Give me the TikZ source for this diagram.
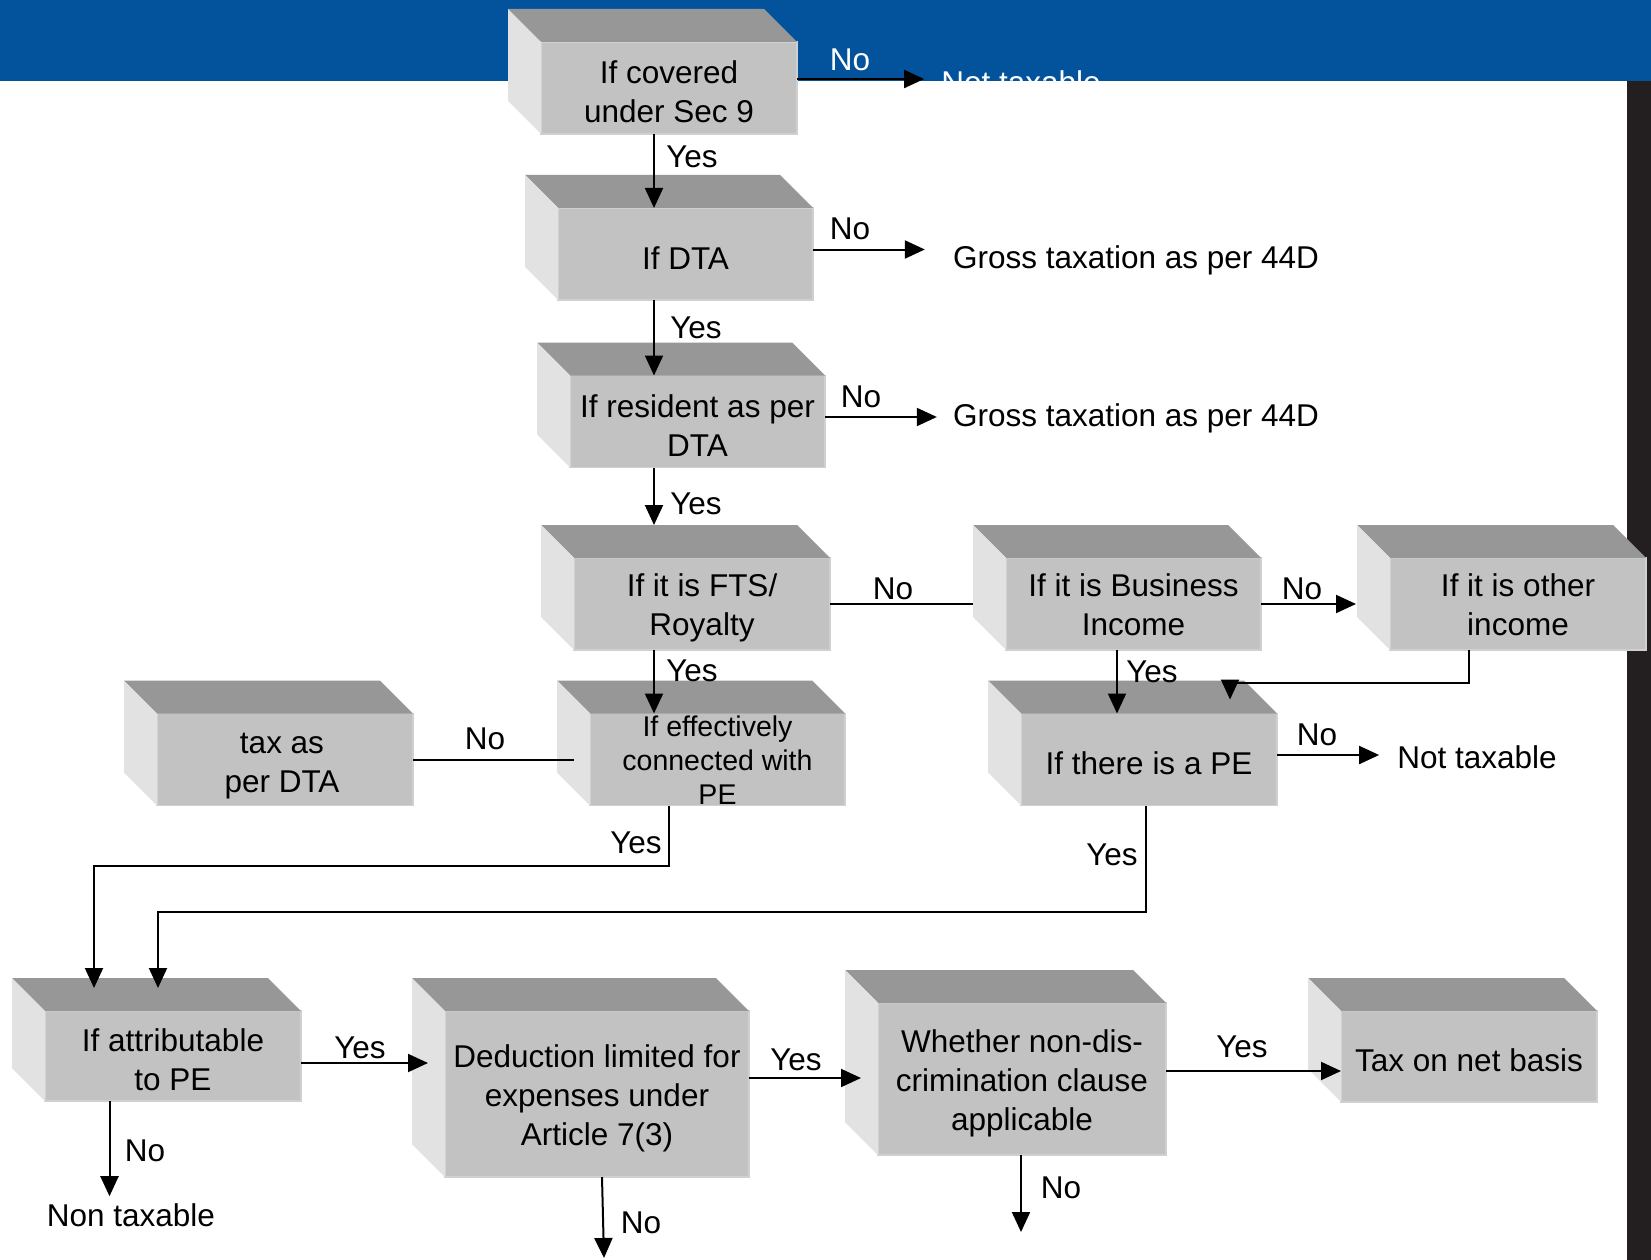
\documentclass[tikz,border=0pt]{standalone}
\usepackage{fontspec}
\setmainfont{Liberation Sans}
\usetikzlibrary{arrows.meta}
\definecolor{frontgray}{HTML}{C2C2C2}
\definecolor{topgray}{HTML}{979797}
\definecolor{leftgray}{HTML}{E2E2E2}
\definecolor{edgegray}{HTML}{D0D0D0}
\definecolor{bluebar}{HTML}{02529C}
\definecolor{darkbar}{HTML}{231F20}
\tikzset{
  front/.style={fill=frontgray, draw=edgegray, line width=1.5pt, inner sep=0pt, outer sep=0pt},
  topf/.style={fill=topgray},
  leftf/.style={fill=leftgray},
  btxt/.style={align=center, font=\fontsize{31.5}{39}\selectfont, inner sep=0pt, yshift=-4pt},
  smalltxt/.style={font=\fontsize{28.5}{34}\selectfont, yshift=3pt},
  lowtxt/.style={yshift=-3pt},
  lbl/.style={font=\fontsize{31.5}{39}\selectfont, inner sep=0pt},
  conn/.style={line width=2pt},
  arr/.style={conn, -{Triangle[length=20pt,width=18pt]}},
}
\newcommand\cubebox[7]{%
  \node[front, minimum width=#4pt, minimum height=#5pt] (#1) at (#2,#3) {};
  \fill[topf] (#1.north west) -- ++(-33,-33) -- ([xshift=-33pt,yshift=33pt]#1.north east) -- (#1.north east) -- cycle;
  \fill[leftf] (#1.north west) -- ++(-33,-33) -- ([xshift=-33pt,yshift=33pt]#1.south west) -- (#1.south west) -- cycle;
  \coordinate (#1top) at ([yshift=33pt]#1.north);
  \node[btxt,#6] (#1t) at (#1.center) {#7};
}
\begin{document}
\begin{tikzpicture}[x=1pt,y=-1pt]
\useasboundingbox (0,0) rectangle (1651,1260);
\fill[white] (0,0) rectangle (1651,1260);
\fill[bluebar] (0,0) rectangle (1651,81);
\fill[darkbar] (1627,81) rectangle (1651,1260);

% boxes
\cubebox{b1}{669}{88}{256}{92}{}{If covered\\under Sec 9}
\cubebox{b2}{685.5}{254}{255}{92}{}{If DTA}
\cubebox{b3}{697.5}{421.5}{255}{92}{}{If resident as per\\DTA}
\cubebox{b4}{702}{604}{256}{92}{}{If it is FTS/\\Royalty}
\cubebox{b5}{1133.5}{604}{255}{92}{yshift=3pt}{If it is Business\\Income}
\cubebox{b6}{1518}{604}{256}{92}{yshift=3pt}{If it is other\\income}
\cubebox{b7}{285}{759.5}{256}{92}{lowtxt,xshift=-3pt}{tax as\\per DTA}
\cubebox{b8}{717.5}{759.5}{255}{92}{smalltxt}{If effectively\\connected with\\PE}
\cubebox{b9}{1149}{759.5}{256}{92}{}{If there is a PE}
\cubebox{b10}{173}{1056}{256}{90}{}{If attributable\\to PE}
\cubebox{b11}{597}{1094}{304}{166}{}{Deduction limited for\\expenses under\\Article 7(3)}
\cubebox{b12}{1022}{1079}{288}{152}{}{Whether non-dis-\\crimination clause\\applicable}
\cubebox{b13}{1469}{1056.5}{256}{91}{}{Tax on net basis}

% outcome texts
\node[lbl, text=white] (nt1) at (1021,82) {Not taxable};
\node[lbl] (g1) at (1136,260) {Gross taxation as per 44D};
\node[lbl] (g2) at (1136,418) {Gross taxation as per 44D};
\node[lbl] (nt2) at (1477,757) {Not taxable};
\node[lbl] (ntx) at (131,1215) {Non taxable};
\coordinate (e11) at (604,1258);
\coordinate (e12) at (1021,1232);

% edge labels
\node[lbl, text=white] (l1) at (850,60) {No};
\node[lbl] (l2) at (692,157) {Yes};
\node[lbl] (l3) at (850,229) {No};
\node[lbl] (l4) at (696,328) {Yes};
\node[lbl] (l5) at (861,397) {No};
\node[lbl] (l6) at (696,504) {Yes};
\node[lbl] (l7) at (893,589) {No};
\node[lbl] (l8) at (1302,589) {No};
\node[lbl] (l9) at (692,671) {Yes};
\node[lbl] (l10) at (485,739) {No};
\node[lbl] (l11) at (1152,672) {Yes};
\node[lbl] (l12) at (1317,735) {No};
\node[lbl] (l13) at (636,843) {Yes};
\node[lbl] (l14) at (1112,855) {Yes};
\node[lbl] (l15) at (360,1048) {Yes};
\node[lbl] (l16) at (145,1151) {No};
\node[lbl] (l17) at (796,1060) {Yes};
\node[lbl] (l18) at (641,1223) {No};
\node[lbl] (l19) at (1242,1047) {Yes};
\node[lbl] (l20) at (1061,1188) {No};

% connectors
\draw[arr, shorten >=17pt] ([yshift=9pt]b1.east) -- ([yshift=9pt]b1.east -| nt1.west);
\draw[arr] ([xshift=-15pt]b1.south) -- ([xshift=-15pt]b1.south |- b2.north);
\draw[arr, shorten >=28pt] ([yshift=4.5pt]b2.east) -- ([yshift=4.5pt]b2.east -| g1.west);
\draw[arr] ([xshift=-31.5pt]b2.south) -- ([xshift=-31.5pt]b2.south |- b3.north);
\draw[arr, shorten >=16pt] ([yshift=4.5pt]b3.east) -- ([yshift=4.5pt]b3.east -| g2.west);
\draw[arr] ([xshift=-43.5pt]b3.south) -- ([xshift=-43.5pt]b3.south |- b4top);
\draw[conn] (b4.east) -- ([xshift=-33pt]b5.west);
\draw[arr] (b5.east) -- ([xshift=-34pt]b6.west);
\draw[arr] ([xshift=-48pt]b4.south) -- ([xshift=-48pt]b4.south |- b8.north);
\draw[conn] ([xshift=-16pt]b8.west) -- (b7.east);
\draw[arr] ([xshift=-16.5pt]b5.south) -- ([xshift=-16.5pt]b5.south |- b9.north);
\draw[arr] ([xshift=-49pt]b6.south) -- ++(0,33) -| ([xshift=81pt,yshift=14pt]b9.north);
\draw[arr, shorten >=18pt] ([yshift=4.5pt]b9.east) -- ([yshift=4.5pt]b9.east -| nt2.west);
\draw[arr] ([xshift=-48.5pt]b8.south) -- ++(0,60) -| ([xshift=-79pt,yshift=23pt]b10.north);
\draw[arr] ([xshift=-3pt]b9.south) -- ++(0,106) -| ([xshift=-15pt,yshift=23pt]b10.north);
\draw[arr, shorten >=17pt] ([yshift=-7pt]b10.east) -- ([yshift=-7pt]b10.east -| b11.west);
\draw[arr, shorten >=7pt] ([xshift=-63.5pt]b10.south) -- ([xshift=-63.5pt]b10.south |- ntx.north);
\draw[arr, shorten >=17pt] ([yshift=16pt]b11.east) -- ([yshift=16pt]b11.east -| b12.west);
\draw[arr] ([xshift=5pt]b11.south) -- (e11);
\draw[arr] ([yshift=8pt]b12.east) -- ([yshift=8pt]b12.east -| b13.west);
\draw[arr] ([xshift=-1pt]b12.south) -- (e12);
\end{tikzpicture}
\end{document}
